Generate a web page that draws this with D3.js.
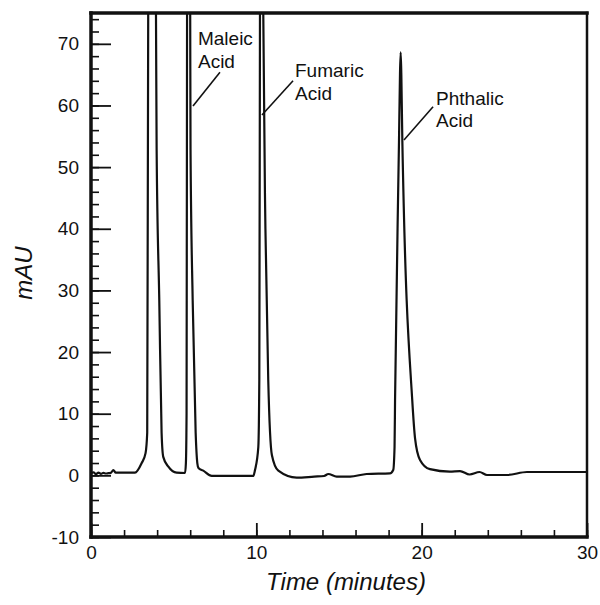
<!DOCTYPE html>
<html>
<head>
<meta charset="utf-8">
<script src="https://cdn.jsdelivr.net/npm/d3@7"></script>
<style>
  html, body { margin: 0; padding: 0; background: #fff; }
  svg { display: block; }
  text { font-family: "Liberation Sans", Arial, Helvetica, sans-serif; fill: #111; }
</style>
</head>
<body>
<svg id="chart" width="600" height="605"></svg>
<script>
// ---- data ----
const timeMin = [0, 0.15, 0.3, 0.45, 0.6, 0.75, 0.9, 1.05, 1.2, 1.35, 1.5, 2.0, 2.66,
  3.06, 3.3, 3.4, 3.46, 3.7, 3.93, 3.97, 4.13, 4.27, 4.37, 4.68, 5.18, 5.69,
  5.74, 5.78, 5.81, 5.9, 6.0, 6.02, 6.15, 6.33, 6.43, 6.5, 6.79, 7.3, 8.5, 9.82,
  9.92, 10.12, 10.18, 10.22, 10.3, 10.42, 10.55, 10.72, 10.94, 11.33, 12.44,
  13.5, 14.1, 14.35, 14.86, 15.67, 16.67, 18.08, 18.28, 18.36, 18.39, 18.63, 18.69,
  18.73, 18.77, 18.83, 19.43, 19.6, 19.9, 20.5, 21.7, 22.32, 22.9, 23.5, 23.95,
  25.16, 26.37, 27.58, 30];
const absorbance = [0.3, 0.5, 0.2, 0.45, 0.25, 0.4, 0.3, 0.35, 0.4, 0.87, 0.43, 0.43, 0.43,
  1.95, 3.6, 6.9, 75, 140, 75, 52.8, 28.4, 6.9, 3.0, 1.4, 0.43, 0.38,
  2, 10, 75, 150, 75, 52.8, 28.4, 6.9, 2.0, 1.2, 0.76, -0.1, -0.1, -0.1,
  0.87, 4.6, 15.5, 75, 160, 75, 40, 15.5, 3.3, 0.75, -0.38,
  -0.2, -0.1, 0.22, -0.2, -0.2, 0.22, 0.33, 0.87, 4.6, 12.2, 54.4, 65.3,
  68.6, 65, 54.4, 12.2, 6, 2.5, 1.0, 0.6, 0.7, 0.14, 0.54, 0.06,
  0.06, 0.54, 0.54, 0.54];

const peakNames = ["Maleic", "Fumaric", "Phthalic"];
const labelT = [6.47, 12.34, 20.87];       // text anchor, minutes
const labelV = [69.8, 64.6, 60.1];         // text baseline, mAU
const pointerFromT = [7.8, 12.22, 20.69];
const pointerFromV = [65.4, 64.0, 59.8];
const pointerToT = [6.17, 10.34, 18.93];
const pointerToV = [59.9, 58.45, 54.4];

const xDomain = [0, 30];
const yDomain = [-10, 75];
const xMajorTicks = [0, 10, 20, 30];
const yMajorTicks = [-10, 0, 10, 20, 30, 40, 50, 60, 70];
const xMinorStep = 2;
const yMinorStep = 2;
const xTitle = "Time (minutes)";
const yTitle = "mAU";

// ---- layout ----
const L = 91, R = 587, T = 13, B = 537;
const svg = d3.select("#chart");
const x = d3.scaleLinear().domain(xDomain).range([L, R]);
const y = d3.scaleLinear().domain(yDomain).range([B, T]);

const xMinor = d3.range(xDomain[0], xDomain[1] + 0.001, xMinorStep);
const yMinor = d3.range(yDomain[0], 74 + 0.001, yMinorStep);
const plainFmt = d => String(d);

// minor ticks (inward)
svg.append("g").attr("transform", `translate(0,${B})`)
  .call(d3.axisBottom(x).tickValues(xMinor).tickSize(-7).tickFormat(""))
  .call(g => g.select(".domain").remove())
  .call(g => g.selectAll("line").attr("stroke", "#111").attr("stroke-width", 1.6));
svg.append("g").attr("transform", `translate(${L},0)`)
  .call(d3.axisLeft(y).tickValues(yMinor).tickSize(-8).tickFormat(""))
  .call(g => g.select(".domain").remove())
  .call(g => g.selectAll("line").attr("stroke", "#111").attr("stroke-width", 1.6));

// major ticks + labels
svg.append("g").attr("transform", `translate(0,${B})`)
  .call(d3.axisBottom(x).tickValues(xMajorTicks).tickSize(-14).tickPadding(9).tickFormat(plainFmt))
  .call(g => g.select(".domain").remove())
  .call(g => g.selectAll("line").attr("stroke", "#111").attr("stroke-width", 1.8))
  .call(g => g.selectAll("text").attr("font-size", 19).attr("fill", "#111")
    .attr("font-family", "Liberation Sans, Arial, sans-serif"));
svg.append("g").attr("transform", `translate(${L},0)`)
  .call(d3.axisLeft(y).tickValues(yMajorTicks).tickSize(-20).tickPadding(12).tickFormat(plainFmt))
  .call(g => g.select(".domain").remove())
  .call(g => g.selectAll("line").attr("stroke", "#111").attr("stroke-width", 1.8))
  .call(g => g.selectAll("text").attr("font-size", 19).attr("fill", "#111")
    .attr("font-family", "Liberation Sans, Arial, sans-serif"));

// clip for trace
svg.append("defs").append("clipPath").attr("id", "plotclip")
  .append("rect").attr("x", L).attr("y", T).attr("width", R - L).attr("height", B - T);

const points = timeMin.map((t, i) => [t, absorbance[i]]);
const line = d3.line().x(d => x(d[0])).y(d => y(d[1])).curve(d3.curveMonotoneX);
svg.append("path")
  .attr("clip-path", "url(#plotclip)")
  .attr("d", line(points))
  .attr("fill", "none")
  .attr("stroke", "#111")
  .attr("stroke-width", 2.2)
  .attr("stroke-linejoin", "round");

// frame
const frame = svg.append("g").attr("stroke", "#111").attr("stroke-linecap", "square");
frame.append("line").attr("x1", L).attr("x2", L).attr("y1", T).attr("y2", B).attr("stroke-width", 3.5);
frame.append("line").attr("x1", L).attr("x2", R).attr("y1", B).attr("y2", B).attr("stroke-width", 3.5);
frame.append("line").attr("x1", L).attr("x2", R).attr("y1", T).attr("y2", T).attr("stroke-width", 3.5);
frame.append("line").attr("x1", R).attr("x2", R).attr("y1", T).attr("y2", B).attr("stroke-width", 2.5);

// annotations
const ann = svg.append("g");
peakNames.forEach((name, i) => {
  const t = ann.append("text")
    .attr("x", x(labelT[i])).attr("y", y(labelV[i]))
    .attr("font-size", 19);
  t.append("tspan").attr("x", x(labelT[i])).text(name);
  t.append("tspan").attr("x", x(labelT[i])).attr("dy", 22.5).text("Acid");
  ann.append("line")
    .attr("x1", x(pointerFromT[i])).attr("y1", y(pointerFromV[i]))
    .attr("x2", x(pointerToT[i])).attr("y2", y(pointerToV[i]))
    .attr("stroke", "#111").attr("stroke-width", 1.6);
});

// axis titles
svg.append("text")
  .attr("x", 346).attr("y", 590)
  .attr("text-anchor", "middle")
  .attr("font-size", 24).attr("font-style", "italic")
  .text(xTitle);
svg.append("text")
  .attr("transform", `translate(32,${(T + B) / 2 - 2}) rotate(-90)`)
  .attr("text-anchor", "middle")
  .attr("font-size", 24).attr("font-style", "italic")
  .text(yTitle);
</script>
</body>
</html>
